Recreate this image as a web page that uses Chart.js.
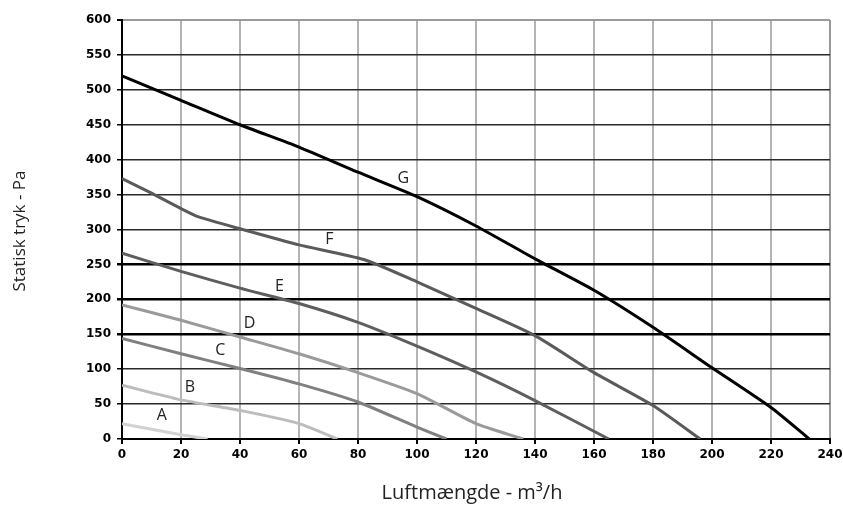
<!DOCTYPE html>
<html>
<head>
<meta charset="utf-8">
<script src="https://cdn.jsdelivr.net/npm/chart.js@4"></script>
<style>
  body { margin: 0; background: #fff; }
  #kurver { display: block; }
</style>
</head>
<body>
<canvas id="kurver" width="843" height="509"></canvas>
<script>
  // kurver (m3/h, Pa)
  const xA = [0, 10, 20, 29];
  const yA = [22, 14, 6, 0];
  const xB = [0, 20, 40, 60, 73];
  const yB = [77, 56, 41, 22, 0];
  const xC = [0, 20, 40, 60, 80, 100, 110];
  const yC = [144, 122, 101, 79, 53, 17, 0];
  const xD = [0, 20, 40, 60, 80, 100, 120, 136];
  const yD = [192, 170, 146, 122, 95, 65, 22, 0];
  const xE = [0, 20, 40, 60, 80, 100, 120, 140, 165];
  const yE = [266, 240, 216, 194, 167, 133, 96, 55, 0];
  const xF = [0, 10, 20, 26, 40, 60, 82, 100, 120, 140, 160, 180, 196];
  const yF = [373, 352, 330, 318, 301, 278, 257, 225, 187, 148, 95, 48, 0];
  const xG = [0, 20, 40, 60, 80, 100, 120, 140, 160, 180, 200, 220, 233];
  const yG = [520, 485, 450, 418, 382, 347, 305, 258, 213, 160, 102, 45, 0];

  const kurveNavne = ['A', 'B', 'C', 'D', 'E', 'F', 'G'];
  const kurveFarver = ['#d2d2d2', '#bcbcbc', '#808080', '#9a9a9a', '#5e5e5e', '#5a5a5a', '#000000'];
  const navnX = [13.5, 23, 33.3, 43.2, 53.4, 70.3, 95.4];
  const navnY = [34, 74.5, 127, 166, 219, 286, 373];

  const fedeLinjer = [150, 200, 250];

  const kurveX = [xA, xB, xC, xD, xE, xF, xG];
  const kurveY = [yA, yB, yC, yD, yE, yF, yG];

  const datasets = kurveNavne.map((navn, i) => ({
    label: navn,
    data: kurveX[i].map((x, j) => ({ x: x, y: kurveY[i][j] })),
    borderColor: kurveFarver[i],
    borderWidth: 3,
    pointRadius: 0,
    tension: 0.2,
    fill: false
  }));

  const bogstaver = {
    id: 'bogstaver',
    afterDatasetsDraw(chart) {
      const ctx = chart.ctx;
      const sx = chart.scales.x, sy = chart.scales.y;
      ctx.save();
      ctx.fillStyle = '#222';
      ctx.font = '16px "Open Sans"';
      ctx.textAlign = 'center';
      ctx.textBaseline = 'middle';
      kurveNavne.forEach((navn, i) => {
        ctx.fillText(navn, sx.getPixelForValue(navnX[i]), sy.getPixelForValue(navnY[i]));
      });
      ctx.restore();
    },
    afterDraw(chart) {
      const ctx = chart.ctx;
      ctx.save();
      ctx.fillStyle = '#222';
      ctx.textAlign = 'center';
      ctx.textBaseline = 'middle';
      ctx.font = '20px "Open Sans"';
      ctx.fillText('Luftmængde - m³/h', 472, 493);
      ctx.translate(20, 231);
      ctx.rotate(-Math.PI / 2);
      ctx.font = '17px "Open Sans"';
      ctx.fillText('Statisk tryk - Pa', 0, 0);
      ctx.restore();
    }
  };

  new Chart(document.getElementById('kurver'), {
    type: 'line',
    data: { datasets: datasets },
    options: {
      responsive: false,
      animation: false,
      devicePixelRatio: 1,
      layout: { padding: { top: 20, right: 13, left: 0, bottom: 0 } },
      plugins: {
        legend: { display: false },
        tooltip: { enabled: false }
      },
      scales: {
        x: {
          type: 'linear',
          min: 0,
          max: 240,
          ticks: {
            stepSize: 20,
            color: '#000',
            padding: 4,
            font: { family: 'DejaVu Sans', size: 12, weight: 'bold' }
          },
          grid: {
            color: ctx => ctx.tick && ctx.tick.value === 240 ? '#999' : '#b4b4b4',
            lineWidth: 2,
            tickColor: '#000',
            tickLength: 5
          },
          border: { color: '#000', width: 2 },
          afterFit: s => {
            s.height = 70;
            s.paddingLeft = 0;
            s.paddingRight = 0;
          }
        },
        y: {
          min: 0,
          max: 600,
          ticks: {
            stepSize: 50,
            color: '#000',
            padding: 6,
            font: { family: 'DejaVu Sans', size: 12, weight: 'bold' }
          },
          grid: {
            color: ctx => {
              const v = ctx.tick ? ctx.tick.value : 0;
              if (v === 600) return '#9a9a9a';
              return fedeLinjer.includes(v) ? '#000' : '#2a2a2a';
            },
            lineWidth: ctx => {
              const v = ctx.tick ? ctx.tick.value : 0;
              if (v === 600) return 2;
              return fedeLinjer.includes(v) ? 2.5 : 1.5;
            },
            tickColor: '#000',
            tickLength: 5
          },
          border: { color: '#000', width: 2 },
          afterFit: s => {
            s.width = 122;
            s.paddingTop = 0;
            s.paddingBottom = 0;
          }
        }
      }
    },
    plugins: [bogstaver]
  });
</script>
</body>
</html>
